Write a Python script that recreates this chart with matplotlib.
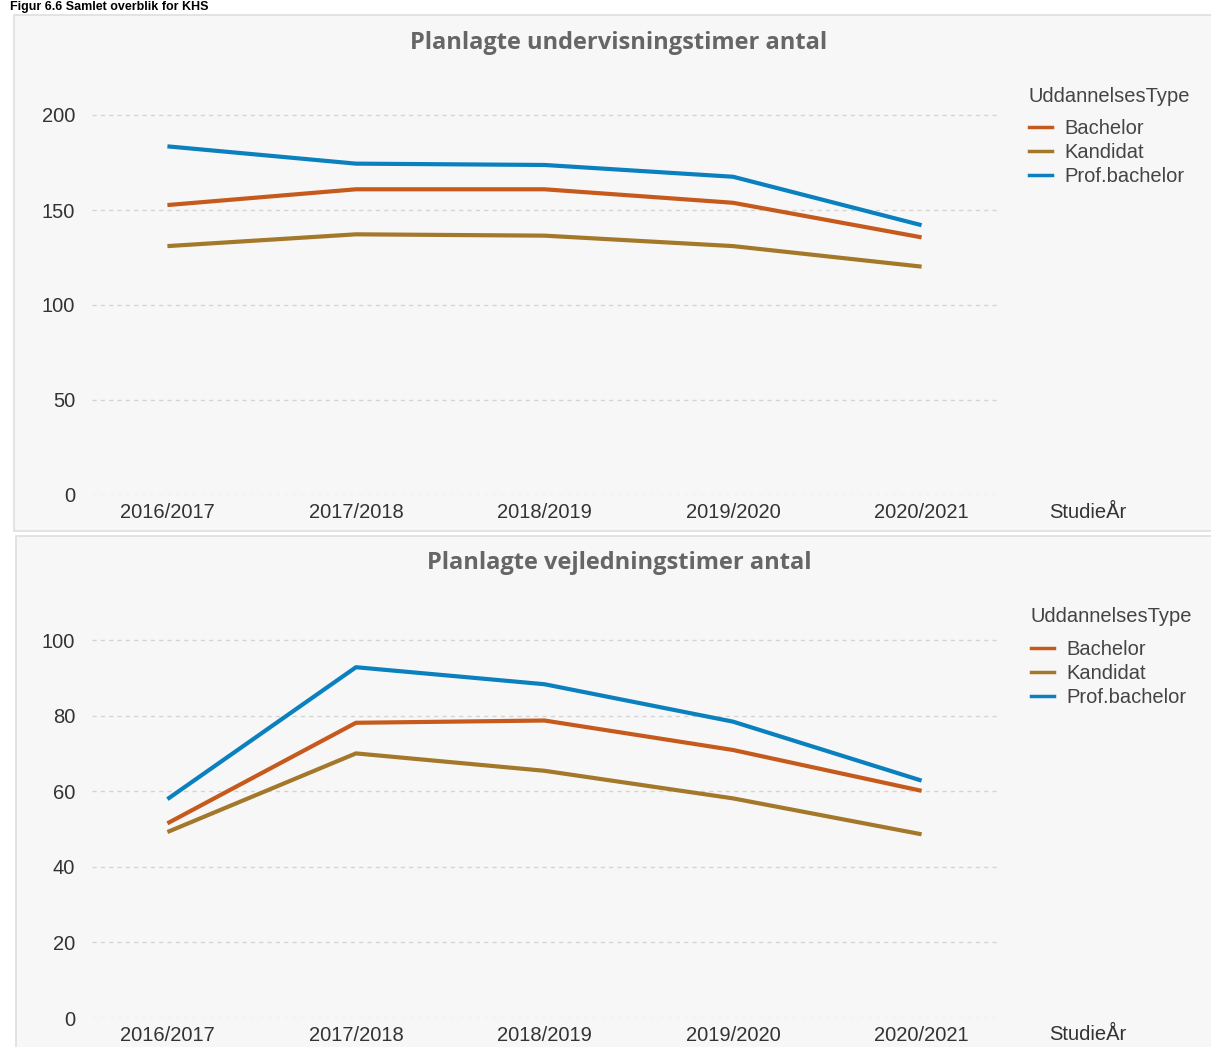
import matplotlib.pyplot as plt
from matplotlib.patches import Rectangle
from matplotlib.lines import Line2D

# data
years = ["2016/2017", "2017/2018", "2018/2019", "2019/2020", "2020/2021"]
series_names = ["Bachelor", "Kandidat", "Prof.bachelor"]
colors = ["#C65A1C", "#A4782A", "#0A80BE"]

undervisning_bachelor = [152.6, 160.9, 160.9, 153.8, 135.6]
undervisning_kandidat = [131.0, 137.2, 136.5, 131.0, 120.2]
undervisning_prof = [183.5, 174.4, 173.7, 167.5, 142.0]

vejledning_bachelor = [51.5, 78.1, 78.7, 70.9, 60.1]
vejledning_kandidat = [49.2, 70.0, 65.4, 58.1, 48.6]
vejledning_prof = [57.9, 92.8, 88.3, 78.4, 62.8]

W, H = 1211, 1047
fig = plt.figure(figsize=(W / 100, H / 100), dpi=100)
fig.patch.set_facecolor("white")
plt.rcParams['font.family'] = ['Liberation Sans', 'DejaVu Sans']

# panel backgrounds (behind the axes)
fig.patches.append(Rectangle((14 / W, 1 - 531 / H), 1.0, 516 / H, transform=fig.transFigure,
                             facecolor="#f7f7f7", edgecolor="#dedede", lw=1.2, zorder=-5))
fig.patches.append(Rectangle((16 / W, 1 - 1060 / H), 1.0, 524 / H, transform=fig.transFigure,
                             facecolor="#f7f7f7", edgecolor="#dedede", lw=1.2, zorder=-5))

# caption above the first panel
fig.text(10 / W, 1 - 1 / H, "Figur 6.6 Samlet overblik for KHS", fontsize=9, fontweight="bold",
         color="black", ha="left", va="top")


def draw_panel(top_px, zero_px, unit_px, ticks, title, title_y, leg_x, leg_y, data):
    ax = fig.add_axes([92 / W, 1 - zero_px / H, (997 - 92) / W, (zero_px - top_px) / H])
    ax.set_facecolor("none")
    x = list(range(len(years)))
    for vals, name, c in zip(data, series_names, colors):
        ax.plot(x, vals, color=c, lw=3.0, solid_capstyle="butt", label=name, zorder=3)
    ax.set_xlim(-0.4, 4.4)
    ax.set_ylim(0, (zero_px - top_px) / unit_px)
    ax.set_yticks(ticks)
    ax.set_yticklabels([str(t) for t in ticks])
    ax.set_xticks(x)
    ax.set_xticklabels(years)
    for t in ticks:
        ax.axhline(t, color="#d4d4d4", lw=1, ls=(0, (3, 3)), zorder=1)
    for s in ax.spines.values():
        s.set_visible(False)
    ax.tick_params(length=0, labelsize=14.5, labelcolor="#333333")
    ax.tick_params(axis="y", pad=12)
    ax.tick_params(axis="x", pad=6)
    for lbl in ax.get_yticklabels():
        lbl.set_va("center_baseline")
    fig.text(619 / W, 1 - title_y / H, title, fontsize=17, fontweight="bold", color="#666666",
             ha="center", va="center", family=["Open Sans", "DejaVu Sans"])
    fig.text(1049 / W, 1 - (zero_px + 17) / H, "StudieÅr", fontsize=14.5, color="#333333",
             ha="left", va="center")
    # legend title drawn separately to keep the larger gap above the entries
    fig.text(leg_x / W, 1 - leg_y / H, "UddannelsesType", fontsize=14.5, color="#444444",
             ha="left", va="center")
    handles = [Line2D([0], [0], color=c, lw=2.5) for c in colors]
    leg = fig.legend(handles, series_names, loc="upper left",
                     bbox_to_anchor=((leg_x - 8) / W, 1 - (leg_y + 15) / H), frameon=False,
                     fontsize=14.5, handlelength=1.15, handletextpad=0.6,
                     labelspacing=0.25, borderaxespad=0)
    for t in leg.get_texts():
        t.set_color("#444444")
    return ax


draw_panel(80, 495, 1.9, [0, 50, 100, 150, 200], "Planlagte undervisningstimer antal", 43,
           1029, 96, [undervisning_bachelor, undervisning_kandidat, undervisning_prof])
draw_panel(600, 1018, 3.78, [0, 20, 40, 60, 80, 100], "Planlagte vejledningstimer antal", 563,
           1031, 617, [vejledning_bachelor, vejledning_kandidat, vejledning_prof])

fig.savefig("out.png", dpi=100)
